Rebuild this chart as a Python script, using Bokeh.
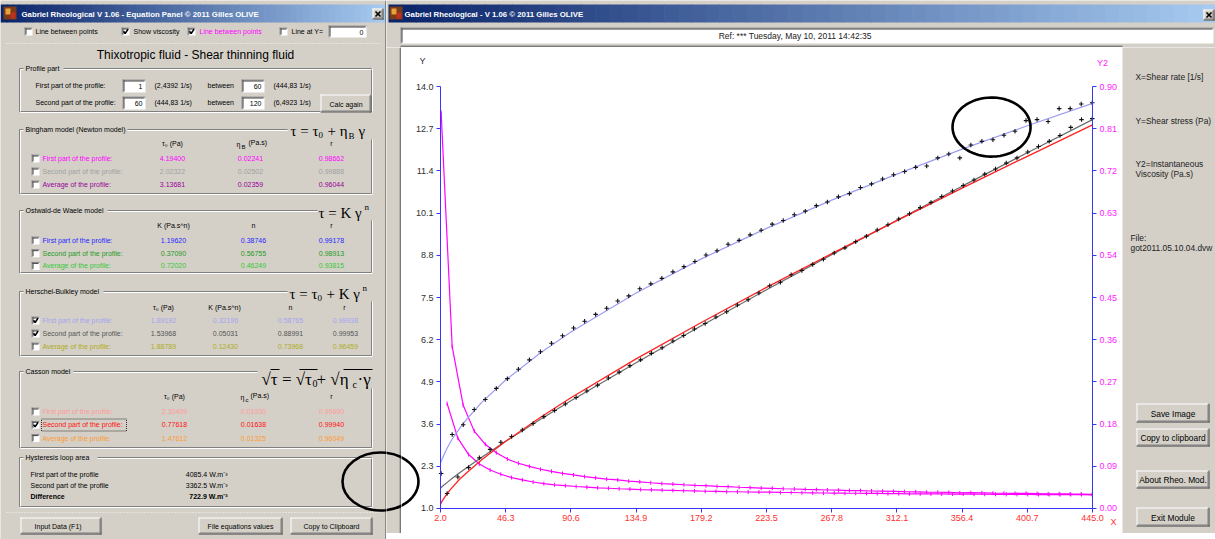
import numpy as np
from bokeh.plotting import figure
from bokeh.models import (Range1d, LinearAxis, FixedTicker, PrintfTickFormatter,
                          Label, PolyAnnotation)
from bokeh.layouts import row, column
from bokeh.core.properties import value
from bokeh.embed import file_html
from bokeh.resources import INLINE

# ---------------- data ----------------
x_ticks = [2.0, 46.3, 90.6, 134.9, 179.2, 223.5, 267.8, 312.1, 356.4, 400.7, 445.0]
y_ticks = [1.0, 2.3, 3.6, 4.9, 6.2, 7.5, 8.8, 10.1, 11.4, 12.7, 14.0]
y2_ticks = [0.0, 0.09, 0.18, 0.27, 0.36, 0.45, 0.54, 0.63, 0.72, 0.81, 0.90]

# first part of the profile (increasing shear rate)
up_rate = [2.44, 9.94, 17.44, 24.93, 32.43, 39.93, 47.43, 54.93, 62.42, 69.92,
           77.42, 84.92, 92.42, 99.91, 107.41, 114.91, 122.41, 129.91, 137.40, 144.90,
           152.40, 159.90, 167.40, 174.89, 182.39, 189.89, 197.39, 204.89, 212.38, 219.88,
           227.38, 234.88, 242.38, 249.87, 257.37, 264.87, 272.37, 279.87, 287.36, 294.86,
           302.36, 309.86, 317.36, 324.85, 332.35, 339.85, 347.35, 354.85, 362.34, 369.84,
           377.34, 384.84, 392.34, 399.83, 407.33, 414.83, 422.33, 429.83, 437.32, 444.83]
up_stress = [2.08, 3.28, 3.58, 4.05, 4.36, 4.70, 5.00, 5.29, 5.58, 5.83,
             6.09, 6.32, 6.56, 6.77, 6.98, 7.17, 7.39, 7.55, 7.77, 7.92,
             8.09, 8.29, 8.45, 8.61, 8.81, 8.94, 9.14, 9.26, 9.43, 9.57,
             9.76, 9.87, 10.05, 10.16, 10.33, 10.44, 10.60, 10.70, 10.89, 11.00,
             11.15, 11.28, 11.38, 11.51, 11.55, 11.80, 11.92, 11.80, 12.20, 12.31,
             12.36, 12.50, 12.62, 12.95, 12.98, 12.92, 13.32, 13.32, 13.46, 13.50]
up_visc = [0.845, 0.345, 0.220, 0.165, 0.137, 0.119, 0.1055, 0.0965, 0.0897, 0.0837,
           0.0792, 0.0748, 0.0716, 0.0681, 0.0654, 0.0627, 0.0609, 0.0583, 0.0569, 0.0549,
           0.0531, 0.0521, 0.0506, 0.0493, 0.0486, 0.0471, 0.0465, 0.0453, 0.0445, 0.0436,
           0.0431, 0.0421, 0.0416, 0.0407, 0.0403, 0.0395, 0.0390, 0.0382, 0.0380, 0.0373,
           0.0369, 0.0365, 0.0359, 0.0354, 0.0348, 0.0347, 0.0343, 0.0333, 0.0337, 0.0333,
           0.0328, 0.0325, 0.0322, 0.0324, 0.0319, 0.0311, 0.0315, 0.0310, 0.0308, 0.0303]

# second part of the profile (decreasing shear rate)
down_rate = [6.49, 13.80, 21.10, 28.41, 35.71, 43.02, 50.32, 57.63, 64.94, 72.24,
             79.55, 86.85, 94.16, 101.46, 108.77, 116.08, 123.38, 130.69, 137.99, 145.30,
             152.60, 159.91, 167.22, 174.52, 181.83, 189.13, 196.44, 203.74, 211.05, 218.36,
             225.66, 232.97, 240.27, 247.58, 254.88, 262.19, 269.50, 276.80, 284.11, 291.41,
             298.72, 306.02, 313.33, 320.64, 327.94, 335.25, 342.55, 349.86, 357.16, 364.47,
             371.78, 379.08, 386.39, 393.69, 401.00, 408.30, 415.61, 422.92, 430.22, 437.53,
             444.83]
down_stress = [1.46, 1.97, 2.26, 2.56, 2.82, 3.04, 3.22, 3.42, 3.62, 3.83,
               4.02, 4.22, 4.42, 4.62, 4.80, 5.02, 5.20, 5.40, 5.58, 5.78,
               5.95, 6.16, 6.33, 6.53, 6.70, 6.90, 7.06, 7.27, 7.43, 7.64,
               7.86, 7.97, 8.20, 8.33, 8.52, 8.68, 8.87, 9.03, 9.22, 9.39,
               9.58, 9.74, 9.92, 10.08, 10.27, 10.43, 10.61, 10.78, 10.95, 11.12,
               11.30, 11.46, 11.64, 11.80, 11.98, 12.15, 12.31, 12.49, 12.74, 12.98,
               13.01]
down_visc = [0.224, 0.150, 0.115, 0.095, 0.082, 0.073, 0.066, 0.061, 0.0565, 0.0530,
             0.0505, 0.0486, 0.0469, 0.0455, 0.0441, 0.0432, 0.0421, 0.0413, 0.0404, 0.0398,
             0.0390, 0.0385, 0.0379, 0.0374, 0.0368, 0.0365, 0.0359, 0.0357, 0.0352, 0.0350,
             0.0348, 0.0342, 0.0341, 0.0336, 0.0334, 0.0331, 0.0329, 0.0326, 0.0325, 0.0322,
             0.0321, 0.0318, 0.0317, 0.0314, 0.0313, 0.0311, 0.0310, 0.0308, 0.0307, 0.0305,
             0.0304, 0.0302, 0.0301, 0.0300, 0.0299, 0.0298, 0.0296, 0.0295, 0.0296, 0.0297,
             0.0292]

# fitted model curves
fit_rate = [2.0, 3.0, 5.0, 7.0, 10.0, 15.0, 20.0, 30.0, 46.3, 70.0, 90.6, 134.9,
            179.2, 223.5, 267.8, 312.1, 356.4, 400.7, 445.0]
hb_first_fit = [2.40, 2.51, 2.72, 2.90, 3.14, 3.47, 3.76, 4.27, 4.96, 5.80, 6.44, 7.64,
                8.69, 9.63, 10.50, 11.30, 12.07, 12.79, 13.48]
hb_second_fit = [1.63, 1.67, 1.75, 1.82, 1.93, 2.10, 2.26, 2.58, 3.07, 3.75, 4.32, 5.49,
                 6.63, 7.74, 8.82, 9.88, 10.93, 11.96, 12.98]
casson_second_fit = [1.13, 1.22, 1.36, 1.49, 1.65, 1.90, 2.11, 2.50, 3.07, 3.81, 4.41, 5.61,
                     6.73, 7.81, 8.85, 9.87, 10.87, 11.85, 12.82]

# model table (left panel)
bingham_rows = [("First part of the profile:", "4.19400", "0.02241", "0.98662", "#ff00ff", False),
                ("Second part of the profile:", "2.02322", "0.02502", "0.99888", "#a0a0a0", False),
                ("Average of the profile:", "3.13681", "0.02359", "0.96044", "#990099", False)]
ostwald_rows = [("First part of the profile:", "1.19620", "0.38746", "0.99178", "#2626ff", False),
                ("Second part of the profile:", "0.37090", "0.56755", "0.98913", "#1f9a1f", False),
                ("Average of the profile:", "0.72020", "0.46249", "0.93815", "#36c836", False)]
hb_rows = [("First part of the profile:", "1.89192", "0.32196", "0.58765", "0.99938", "#a4a4f0", True),
           ("Second part of the profile:", "1.53968", "0.05031", "0.88991", "0.99953", "#555555", True),
           ("Average of the profile:", "1.88789", "0.12430", "0.73968", "0.96459", "#b0ac1c", False)]
casson_rows = [("First part of the profile:", "2.30409", "0.01030", "0.99690", "#ff9a9a", False),
               ("Second part of the profile:", "0.77618", "0.01638", "0.99940", "#ff1010", True),
               ("Average of the profile:", "1.47612", "0.01325", "0.96049", "#ff9a30", False)]
hysteresis_rows = [("First part of the profile", "4085.4 W.m⁻³", False),
                   ("Second part of the profile", "3362.5 W.m⁻³", False),
                   ("Difference", "722.9 W.m⁻³", True)]

# ---------------- styling helpers ----------------
BG = "#d4d0c8"
DARK = "#808080"
DARKER = "#404040"
UIF = "Liberation Sans"
SERIF = "Liberation Serif"


def ui_fig(w, h, x0, x1, y0, y1):
    p = figure(width=w, height=h, x_range=Range1d(x0, x1), y_range=Range1d(y0, y1),
               output_backend="svg", toolbar_location=None,
               x_axis_location=None, y_axis_location=None, min_border=0,
               background_fill_color=BG, border_fill_color=BG, outline_line_color=None)
    p.grid.visible = False
    return p


def txt(p, x, y, s, color="#000000", size=7, align="left", bold=False, font=UIF):
    p.text(x=[x], y=[y], text=[s], text_color=color, text_font=value(font),
           text_font_size=f"{size}px", text_align=align, text_baseline="middle",
           text_font_style="bold" if bold else "normal")


def hline(p, x0, x1, y, color, lw=1, dash="solid"):
    p.segment(x0=[x0], y0=[y], x1=[x1], y1=[y], line_color=color, line_width=lw, line_dash=dash)


def vline(p, x, y0, y1, color, lw=1, dash="solid"):
    p.segment(x0=[x], y0=[y0], x1=[x], y1=[y1], line_color=color, line_width=lw, line_dash=dash)


def box(p, x0, y0, x1, y1, fill, line=None, lw=1):
    p.quad(left=[x0], right=[x1], top=[y0], bottom=[y1], fill_color=fill,
           line_color=line, line_width=lw)


def sunken(p, x0, y0, x1, y1):
    box(p, x0, y0, x1, y1, "white")
    hline(p, x0, x1, y0 + 0.5, DARK)
    vline(p, x0 + 0.5, y0, y1, DARK)
    hline(p, x0 + 1, x1 - 1, y0 + 1.5, DARKER)
    vline(p, x0 + 1.5, y0 + 1, y1 - 1, DARKER)


def textbox(p, x0, y0, x1, y1, s):
    sunken(p, x0, y0, x1, y1)
    txt(p, x1 - 3, (y0 + y1) / 2 + 0.5, s, align="right")


def checkbox(p, x, y, checked, s=8):
    sunken(p, x, y - s / 2, x + s, y + s / 2)
    if checked:
        p.line(x=[x + 2.0, x + 3.6, x + 6.6], y=[y - 0.2, y + 2.0, y - 2.4],
               line_color="black", line_width=1.6)


def button(p, x0, y0, x1, y1, s, size=7):
    box(p, x0, y0, x1, y1, BG)
    hline(p, x0, x1, y0 + 0.5, "white")
    vline(p, x0 + 0.5, y0, y1, "white")
    hline(p, x0, x1, y1 - 0.5, DARKER)
    vline(p, x1 - 0.5, y0, y1, DARKER)
    hline(p, x0 + 1, x1 - 1, y1 - 1.5, DARK)
    vline(p, x1 - 1.5, y0 + 1, y1 - 1, DARK)
    if s:
        txt(p, (x0 + x1) / 2, (y0 + y1) / 2 + 0.5, s, align="center", size=size)


def closebtn(p, x0, y0, x1, y1):
    button(p, x0, y0, x1, y1, "")
    p.segment(x0=[x0 + 3, x0 + 3], y0=[y0 + 3, y1 - 3], x1=[x1 - 3, x1 - 3], y1=[y1 - 3, y0 + 3],
              line_color="black", line_width=1.6)


def group(p, x0, y0, x1, y1, label, lw, top_end=None, right_start=None):
    te = top_end if top_end is not None else x1
    rs = right_start if right_start is not None else y0
    for c, d in ((DARK, 0), ("white", 1)):
        hline(p, x0 + d, x0 + 4, y0 + d, c)
        hline(p, x0 + 8 + lw, te, y0 + d, c)
        vline(p, x0 + d, y0 + d, y1, c)
        vline(p, x1 + d, rs, y1, c)
        hline(p, x0 + d, x1 + d, y1 + d, c)
    txt(p, x0 + 6, y0, label)


def titlebar(p, x0, x1, y0, y1, n=60):
    xs = np.linspace(x0, x1, n + 1)
    cols = []
    for i in range(n):
        t = i / (n - 1)
        r = int(10 + (166 - 10) * t)
        g = int(36 + (202 - 36) * t)
        b = int(106 + (240 - 106) * t)
        cols.append(f"#{r:02x}{g:02x}{b:02x}")
    p.quad(left=list(xs[:-1]), right=list(xs[1:] + 0.6), top=[y0] * n, bottom=[y1] * n,
           fill_color=cols, line_color=None)


def icon(p, x, y):
    box(p, x, y, x + 13, y + 13, "#7a3b1a")
    box(p, x + 2, y + 2, x + 7, y + 8, "#e8a23a")
    box(p, x + 7, y + 6, x + 12, y + 12, "#c03020")


def sub_text(p, pieces):
    for (x, y, s, fs) in pieces:
        txt(p, x, y, s, size=fs, font=SERIF)


# ---------------- left panel (Equation Panel) ----------------
L = ui_fig(386, 539, 0, 386, 539, 0)
titlebar(L, 0, 386, 4, 22)
icon(L, 3, 6)
txt(L, 21, 13.5, "Gabriel Rheological V 1.06 - Equation Panel  © 2011 Gilles OLIVE",
    color="white", bold=True, size=7.8)
closebtn(L, 372, 8, 383, 19)
vline(L, 385.5, 0, 539, DARKER)

checkbox(L, 24, 31, False)
txt(L, 35, 31, "Line between points")
checkbox(L, 121, 31, True)
txt(L, 133, 31, "Show viscosity")
checkbox(L, 187, 31, True)
txt(L, 199, 31, "Line between points", color="#ff00ff")
checkbox(L, 279, 31, False)
txt(L, 291, 31, "Line at Y=")
textbox(L, 328, 25, 366, 37, "0")
hline(L, 6, 380, 43, "#f6f6f6", dash="1 2")
txt(L, 195, 54, "Thixotropic fluid - Shear thinning fluid", size=12, align="center")

# Profile part
group(L, 19, 68, 371, 111, "Profile part", 36)
txt(L, 35, 85, "First part of the profile:")
textbox(L, 122, 79, 145, 92, "1")
txt(L, 154, 85, "(2,4392 1/s)")
txt(L, 207, 85, "between")
textbox(L, 241, 79, 264, 92, "60")
txt(L, 273, 85, "(444,83 1/s)")
txt(L, 35, 102, "Second part of the profile:")
textbox(L, 122, 96, 145, 109, "60")
txt(L, 154, 102, "(444,83 1/s)")
txt(L, 207, 102, "between")
textbox(L, 241, 96, 264, 109, "120")
txt(L, 273, 102, "(6,4923 1/s)")
button(L, 320, 94, 371, 112, "Calc again")

# Bingham
group(L, 19, 129, 371, 193, "Bingham model (Newton model)", 100, top_end=287, right_start=139)
sub_text(L, [(290, 130, "τ = τ", 15), (318, 134, "0", 9), (327, 130, "+ η", 15),
             (348, 135, "B", 9), (358, 130, "γ", 15)])
txt(L, 172, 143, "τ₀ (Pa)", align="center")
txt(L, 236, 144, "η")
txt(L, 241, 146.5, "B", size=6)
txt(L, 248, 141.5, "(Pa.s)")
txt(L, 331, 143, "r", align="center")
for k, (lab, a, b, r, col, chk) in enumerate(bingham_rows):
    yy = 158 + 13 * k
    checkbox(L, 31, yy, chk)
    txt(L, 42, yy, lab, color=col)
    txt(L, 172, yy, a, color=col, align="center")
    txt(L, 250, yy, b, color=col, align="center")
    txt(L, 331, yy, r, color=col, align="center")

# Ostwald-de Waele
group(L, 19, 210, 371, 272, "Ostwald-de Waele model", 80, top_end=317, right_start=220)
sub_text(L, [(318, 212, "τ = K γ", 15), (364, 206, "n", 9)])
txt(L, 173, 225, "K (Pa.s^n)", align="center")
txt(L, 253, 225, "n", align="center")
txt(L, 331, 225, "r", align="center")
for k, (lab, a, b, r, col, chk) in enumerate(ostwald_rows):
    yy = 240 + 12.7 * k
    checkbox(L, 31, yy, chk)
    txt(L, 42, yy, lab, color=col)
    txt(L, 173, yy, a, color=col, align="center")
    txt(L, 253, yy, b, color=col, align="center")
    txt(L, 331, yy, r, color=col, align="center")

# Herschel-Bulkley
group(L, 19, 291, 371, 355, "Herschel-Bulkley model", 76, top_end=287, right_start=301)
sub_text(L, [(289, 293, "τ = τ", 15), (317, 297, "0", 9), (326, 293, "+ K γ", 15),
             (362, 287, "n", 9)])
txt(L, 163, 307, "τ₀ (Pa)", align="center")
txt(L, 224, 307, "K (Pa.s^n)", align="center")
txt(L, 290, 307, "n", align="center")
txt(L, 344, 307, "r", align="center")
for k, (lab, a, b, n_, r, col, chk) in enumerate(hb_rows):
    yy = 320 + 13 * k
    checkbox(L, 31, yy, chk)
    txt(L, 42, yy, lab, color=col)
    txt(L, 163, yy, a, color=col, align="center")
    txt(L, 225, yy, b, color=col, align="center")
    txt(L, 290, yy, n_, color=col, align="center")
    txt(L, 345, yy, r, color=col, align="center")

# Casson
group(L, 19, 371, 371, 447, "Casson model", 46, top_end=257, right_start=388)
sub_text(L, [(261, 379, "√τ = √τ", 17), (312, 383, "0", 10), (316, 379, " + √η", 17),
             (352, 384, "c", 10), (357, 379, "·γ", 17)])
L.segment(x0=[270, 299, 343], y0=[369, 369, 369], x1=[279, 317, 372], y1=[369, 369, 369],
          line_color="black", line_width=1)
txt(L, 174, 396, "τ₀ (Pa)", align="center")
txt(L, 240, 397, "η")
txt(L, 245, 399.5, "c", size=6)
txt(L, 250, 394.5, "(Pa.s)")
txt(L, 331, 396, "r", align="center")
for k, (lab, a, b, r, col, chk) in enumerate(casson_rows):
    yy = 411 + 13.3 * k
    checkbox(L, 31, yy, chk)
    txt(L, 42, yy, lab, color=col)
    txt(L, 174, yy, a, color=col, align="center")
    txt(L, 253, yy, b, color=col, align="center")
    txt(L, 331, yy, r, color=col, align="center")
L.quad(left=[41], right=[126], top=[418.5], bottom=[430.5], fill_color=None,
       line_color="#303030", line_dash="1 1", line_width=1)

# Hysteresis
group(L, 19, 457, 371, 506, "Hysteresis loop area", 70)
for k, (lab, v, bold) in enumerate(hysteresis_rows):
    yy = 474 + 11 * k
    txt(L, 30, yy, lab, bold=bold)
    txt(L, 227, yy, v, bold=bold, align="right")
hline(L, 6, 380, 512, "#f6f6f6", dash="1 2")
button(L, 20, 517, 101, 534, "Input Data    (F1)")
button(L, 198, 517, 282, 534, "File equations values")
button(L, 290, 517, 372, 534, "Copy to Clipboard")
L.ellipse(x=[380], y=[481], width=[76], height=[58], fill_color=None,
          line_color="black", line_width=2.6)

# ---------------- right window: top strip ----------------
T = ui_fig(829, 47, 386, 1215, 47, 0)
titlebar(T, 388, 1215, 4, 22)
icon(T, 389, 6)
txt(T, 404, 14, "Gabriel Rheological -  V 1.06 © 2011 Gilles OLIVE", color="white",
    bold=True, size=7.8)
closebtn(T, 1203, 9, 1214, 20)
sunken(T, 400, 27, 1213, 43)
txt(T, 797, 35.5, "Ref:  *** Tuesday, May 10, 2011  14:42:35", align="center", size=8.5,
    color="#222222")
hline(T, 400, 1122, 45.6, DARK, lw=1)
hline(T, 400, 1122, 46.6, DARKER, lw=1)

# gap left of the chart
G = ui_fig(15, 486, 386, 401, 533, 47)
vline(G, 399.6, 47, 533, DARK)
vline(G, 400.6, 47, 533, DARKER)
G.ellipse(x=[380], y=[481], width=[76], height=[58], fill_color=None,
          line_color="black", line_width=2.6)

# ---------------- chart ----------------
# the frame covers the whole white area; axes are pinned at x=2 / x=445 / y=1
C = figure(width=721, height=486, x_range=Range1d(-24.49, 465.38),
           y_range=Range1d(0.2298, 15.2015),
           output_backend="svg", toolbar_location=None, min_border=0,
           background_fill_color="white", border_fill_color="white", outline_line_color=None)
C.extra_y_ranges = {"visc": Range1d(-0.05332, 0.98318)}
C.grid.visible = False

AXB = "#3535ff"


def style_axis(ax, color):
    ax.axis_line_color = AXB
    ax.major_tick_line_color = AXB
    ax.minor_tick_line_color = None
    ax.major_tick_out = 4
    ax.major_tick_in = 0
    ax.major_label_text_font = UIF
    ax.major_label_text_font_size = "9px"
    ax.major_label_text_color = color
    ax.major_label_standoff = 3


xa = C.xaxis[0]
ya = C.yaxis[0]
xa.ticker = FixedTicker(ticks=x_ticks)
xa.formatter = PrintfTickFormatter(format="%.1f")
xa.fixed_location = 1.0
xa.bounds = (2.0, 445.0)
ya.ticker = FixedTicker(ticks=y_ticks)
ya.formatter = PrintfTickFormatter(format="%.1f")
ya.fixed_location = 2.0
ya.bounds = (1.0, 14.0)
style_axis(xa, "#ff3030")
style_axis(ya, "#303030")
ax2 = LinearAxis(y_range_name="visc", ticker=FixedTicker(ticks=y2_ticks),
                 formatter=PrintfTickFormatter(format="%.2f"), fixed_location=445.0,
                 bounds=(0.0, 0.9))
style_axis(ax2, "#ff22ff")
C.add_layout(ax2, "right")

# viscosity curves (Y2)
C.line(up_rate, up_visc, y_range_name="visc", line_color="#ff00ff", line_width=1.2)
C.line(down_rate, down_visc, y_range_name="visc", line_color="#ff00ff", line_width=1.2)
C.scatter(up_rate, up_visc, y_range_name="visc", marker="dash", angle=np.pi / 2, size=4,
          line_color="#ff00ff", line_width=1)
C.scatter(down_rate, down_visc, y_range_name="visc", marker="dash", angle=np.pi / 2, size=4,
          line_color="#ff00ff", line_width=1)

# model fits
C.line(fit_rate, hb_first_fit, line_color="#9c9cf4", line_width=1.2)
C.line(fit_rate, hb_second_fit, line_color="#6a6a6a", line_width=1.2)
C.line(fit_rate, casson_second_fit, line_color="#ff2222", line_width=1.3)

# measured points
C.scatter(up_rate, up_stress, marker="cross", size=4.5, line_color="#111111", line_width=1.1)
C.scatter(down_rate, down_stress, marker="cross", size=4.5, line_color="#111111", line_width=1.1)

C.add_layout(Label(x=2.0, y=14.0, x_offset=-18, y_offset=26, text="Y", text_align="center",
                   text_baseline="middle", text_font=UIF, text_font_size="9px",
                   text_color="#303030"))
C.add_layout(Label(x=445.0, y=0.9, y_range_name="visc", x_offset=10, y_offset=24, text="Y2",
                   text_align="center", text_baseline="middle", text_font=UIF,
                   text_font_size="9px", text_color="#ff22ff"))
C.add_layout(Label(x=445.0, y=1.0, x_offset=21, y_offset=-14, text="X", text_align="center",
                   text_baseline="middle", text_font=UIF, text_font_size="9px",
                   text_color="#ff3030"))

# hand-drawn highlight ellipses
th = np.linspace(0, 2 * np.pi, 80)
e1x, e1y, e1a, e1b = 376.4, 12.75, 26.5, 0.91
C.add_layout(PolyAnnotation(xs=list(e1x + e1a * np.cos(th)), ys=list(e1y + e1b * np.sin(th)),
                            fill_color=None, fill_alpha=0, line_color="black",
                            line_alpha=1.0, line_width=2.6))
e2x, e2y, e2a, e2b = -38.77, 1.83, 25.8, 0.89
C.add_layout(PolyAnnotation(xs=list(e2x + e2a * np.cos(th)), ys=list(e2y + e2b * np.sin(th)),
                            fill_color=None, fill_alpha=0, line_color="black",
                            line_alpha=1.0, line_width=2.6))

# ---------------- right panel ----------------
R = ui_fig(93, 486, 1122, 1215, 533, 47)
txt(R, 1135, 76, "X=Shear rate [1/s]", size=8.4, color="#222222")
txt(R, 1135, 120, "Y=Shear stress (Pa)", size=8.4, color="#222222")
txt(R, 1135, 163, "Y2=Instantaneous", size=8.4, color="#222222")
txt(R, 1135, 173, "Viscosity (Pa.s)", size=8.4, color="#222222")
txt(R, 1130, 237, "File:", size=8.4, color="#222222")
txt(R, 1130, 247, "got2011.05.10.04.dvw", size=8.4, color="#222222")
button(R, 1136, 403, 1209, 422, "Save Image", size=8.4)
button(R, 1136, 428, 1209, 446, "Copy to clipboard", size=8.4)
button(R, 1136, 470, 1209, 488, "About Rheo. Mod.", size=8.4)
button(R, 1136, 507, 1209, 526, "Exit Module", size=8.4)

B = ui_fig(829, 6, 386, 1215, 539, 533)

layout = row(L, column(T, row(G, C, R), B))
open("out.html", "w").write(file_html(layout, INLINE))
